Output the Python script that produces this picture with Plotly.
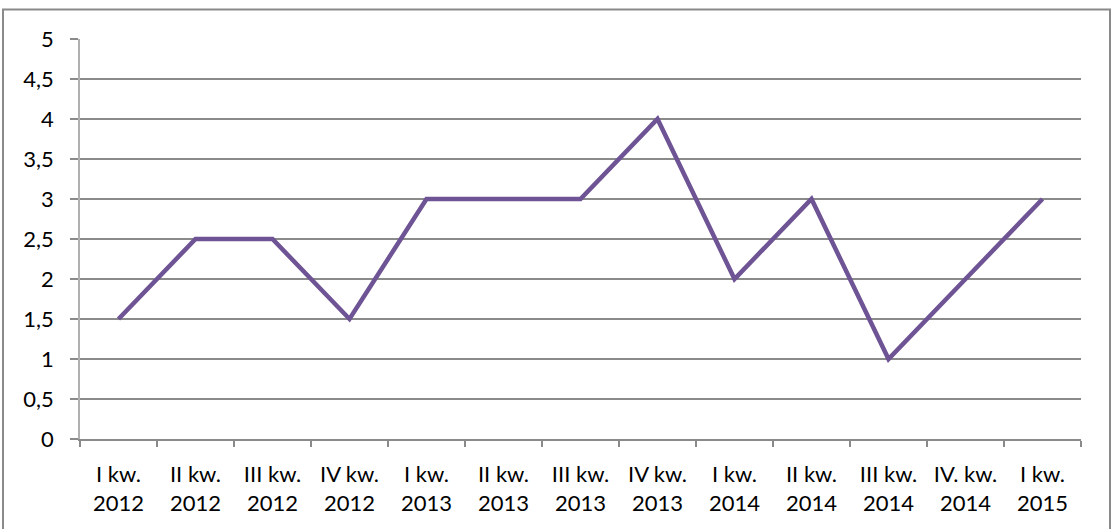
import plotly.graph_objects as go

categories = ["I kw.<br>2012", "II kw.<br>2012", "III kw.<br>2012", "IV kw.<br>2012",
              "I kw.<br>2013", "II kw.<br>2013", "III kw.<br>2013", "IV kw.<br>2013",
              "I kw.<br>2014", "II kw.<br>2014", "III kw.<br>2014", "IV. kw.<br>2014",
              "I kw.<br>2015"]
values = [1.5, 2.5, 2.5, 1.5, 3, 3, 3, 4, 2, 3, 1, 2, 3]
y_ticks = [0, 0.5, 1, 1.5, 2, 2.5, 3, 3.5, 4, 4.5, 5]
y_labels = ["0", "0,5", "1", "1,5", "2", "2,5", "3", "3,5", "4", "4,5", "5"]

W, H = 1118, 529
L, R, T, B = 80, 37, 39, 90
pw, ph = W - L - R, H - T - B

fig = go.Figure(go.Scatter(
    x=categories, y=values, mode="lines",
    line=dict(color="#6E5494", width=4.5),
    hoverinfo="skip",
))

fig.update_layout(
    width=W, height=H,
    margin=dict(l=L, r=R, t=T, b=B),
    paper_bgcolor="white", plot_bgcolor="white",
    showlegend=False,
    font=dict(family="Lato, Open Sans, sans-serif", size=22, color="#000000"),
    shapes=[dict(type="rect", xref="paper", yref="paper",
                 x0=(3 - L) / pw, x1=(1110 - L) / pw,
                 y0=(T + ph - 531) / ph, y1=(T + ph - 9.5) / ph,
                 line=dict(color="#8a8a8a", width=2), fillcolor="rgba(0,0,0,0)",
                 layer="below")],
)
fig.update_xaxes(
    type="category", tickson="boundaries", ticks="outside", ticklen=6,
    tickcolor="#8a8a8a", tickwidth=1.5,
    showline=True, linecolor="#8a8a8a", linewidth=1.5,
    showgrid=False, range=[-0.5, 12.5], tickangle=0,
    ticklabelstandoff=15,
)
fig.update_yaxes(
    range=[0, 5], tickvals=y_ticks, ticktext=y_labels,
    ticks="outside", ticklen=8, tickcolor="#8a8a8a", tickwidth=1.5,
    showline=True, linecolor="#b0b0b0", linewidth=1.5,
    showgrid=True, gridcolor="#8a8a8a", gridwidth=1.5,
    zeroline=False, ticklabelstandoff=12,
)

fig.write_html("out.html",
               config={"displayModeBar": False},
               post_script="document.body.style.margin='0';document.body.style.overflow='hidden';")
